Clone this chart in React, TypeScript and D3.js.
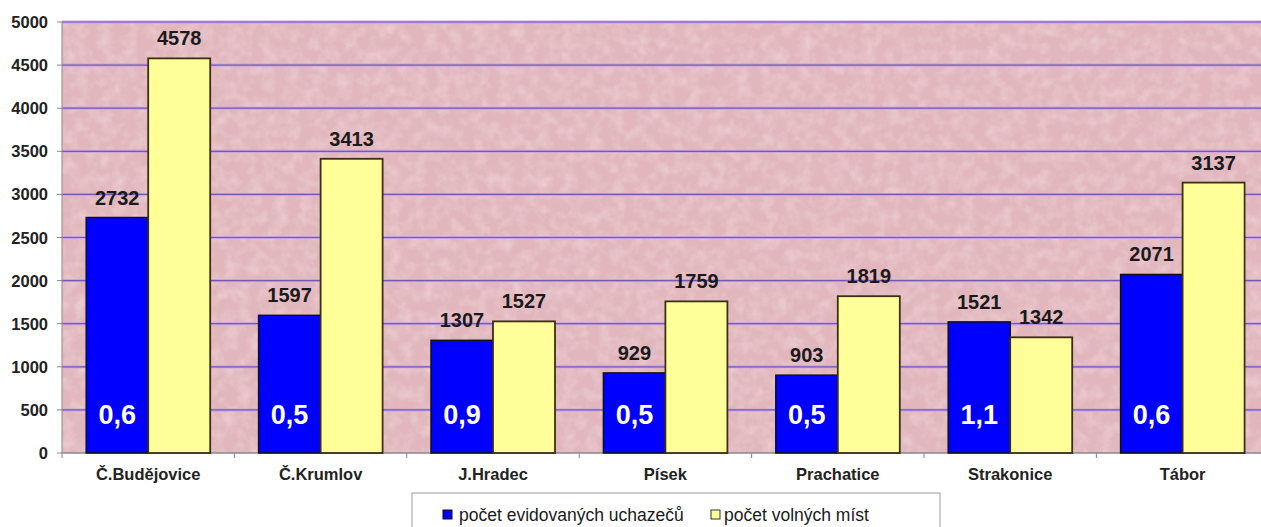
import React from 'react';
import * as d3 from 'd3';

const categories = ['Č.Budějovice', 'Č.Krumlov', 'J.Hradec', 'Písek', 'Prachatice', 'Strakonice', 'Tábor'];
const uchazeci = [2732, 1597, 1307, 929, 903, 1521, 2071];
const volnaMista = [4578, 3413, 1527, 1759, 1819, 1342, 3137];
const ratios = ['0,6', '0,5', '0,9', '0,5', '0,5', '1,1', '0,6'];
const yTicks = [0, 500, 1000, 1500, 2000, 2500, 3000, 3500, 4000, 4500, 5000];
const seriesNames = ['počet evidovaných uchazečů', 'počet volných míst'];

const W = 1261;
const H = 527;
const left = 62;
const top = 22;
const bottom = 453;
const right = left + 7 * 172.4;
const font = 'Liberation Sans, Arial, sans-serif';

const App = () => {
    const x = d3.scaleBand<string>().domain(categories).range([left, right]);
    const y = d3.scaleLinear().domain([0, 5000]).range([bottom, top]);
    const barW = 62;

    return (
        <svg width={W} height={H} style={{ position: 'absolute', left: 0, top: 0, background: '#fff' }}>
            <defs>
                <filter id="tex" x="0" y="0" width="100%" height="100%">
                    <feTurbulence type="fractalNoise" baseFrequency="0.08 0.08" numOctaves="3" seed="4" />
                    <feColorMatrix type="matrix" values="0 0 0 0 1  0 0 0 0 0.9  0 0 0 0 0.9  0 0 0 -1.6 1.0" />
                </filter>
            </defs>
            {/* plot background */}
            <rect x={left} y={top} width={right - left} height={bottom - top} fill="#e1b6bd" />
            <rect x={left} y={top} width={right - left} height={bottom - top} filter="url(#tex)" opacity={0.4} />

            {/* gridlines */}
            {yTicks.filter(t => t > 0).map(t => (
                <g key={t}>
                    <line x1={left} x2={right} y1={y(t)} y2={y(t)} stroke="#c9a3e0" strokeWidth={3} />
                    <line x1={left} x2={right} y1={y(t)} y2={y(t)} stroke="#7458bc" strokeWidth={1.2} />
                </g>
            ))}

            {/* axes */}
            <line x1={left} x2={left} y1={top} y2={bottom} stroke="#888" strokeWidth={1} />
            <line x1={left} x2={right} y1={bottom} y2={bottom} stroke="#888" strokeWidth={1.5} />
            {yTicks.map(t => (
                <g key={'yt' + t}>
                    <line x1={left - 5} x2={left} y1={y(t)} y2={y(t)} stroke="#888" />
                    <text x={48} y={y(t) + 6} textAnchor="end" fontFamily={font} fontWeight="bold"
                        fontSize={16.5} fill="#222">{t}</text>
                </g>
            ))}
            {categories.map((c, i) => (
                <line key={'xt' + i} x1={x(c)!} x2={x(c)!} y1={bottom} y2={bottom + 5} stroke="#888" />
            ))}

            {/* bars */}
            {categories.map((c, i) => {
                const cx = x(c)! + x.bandwidth() / 2;
                return (
                    <g key={c}>
                        <rect x={cx - barW} y={y(uchazeci[i])} width={barW} height={bottom - y(uchazeci[i])}
                            fill="#0000ff" stroke="#111" strokeWidth={1.5} />
                        <rect x={cx} y={y(volnaMista[i])} width={barW} height={bottom - y(volnaMista[i])}
                            fill="#ffff99" stroke="#3a3010" strokeWidth={1.8} />
                        <text x={cx - barW / 2} y={y(uchazeci[i]) - 13} textAnchor="middle" fontFamily={font}
                            fontWeight="bold" fontSize={20} fill="#1a1a1a">{uchazeci[i]}</text>
                        <text x={cx + barW / 2} y={y(volnaMista[i]) - 13} textAnchor="middle" fontFamily={font}
                            fontWeight="bold" fontSize={20} fill="#1a1a1a">{volnaMista[i]}</text>
                        <text x={cx - barW / 2} y={424} textAnchor="middle" fontFamily={font}
                            fontWeight="bold" fontSize={27} fill="#fff">{ratios[i]}</text>
                        <text x={cx} y={480} textAnchor="middle" fontFamily={font}
                            fontWeight="bold" fontSize={16.5} fill="#222">{c}</text>
                    </g>
                );
            })}

            {/* legend */}
            <rect x={412} y={493} width={528} height={50} fill="#fff" stroke="#999" strokeWidth={1} />
            <rect x={443} y={510} width={9} height={9} fill="#0000ff" stroke="#111" strokeWidth={1} />
            <text x={459} y={521} fontFamily={font} fontSize={17.5} fill="#1a1a1a">{seriesNames[0]}</text>
            <rect x={711} y={510} width={9} height={9} fill="#ffff99" stroke="#333" strokeWidth={1} />
            <text x={724} y={521} fontFamily={font} fontSize={17.5} fill="#1a1a1a">{seriesNames[1]}</text>
        </svg>
    );
};

export default App;
